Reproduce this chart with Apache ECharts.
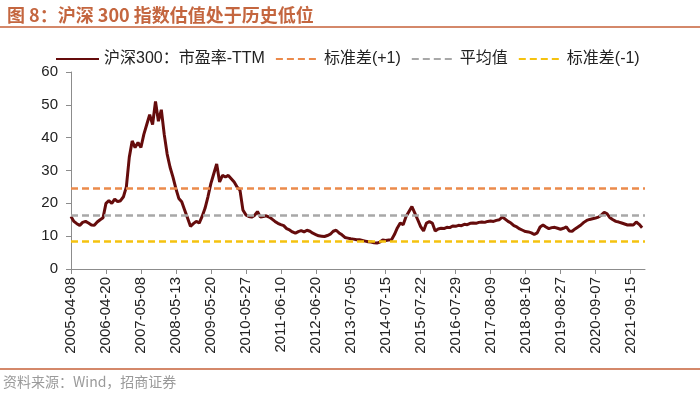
<!DOCTYPE html>
<html>
<head>
<meta charset="utf-8">
<script src="https://cdn.jsdelivr.net/npm/echarts@6/dist/echarts.min.js"></script>
<style>
html,body{margin:0;padding:0;background:#fff;}
#c{width:700px;height:394px;}
</style>
</head>
<body>
<div id="c"></div>
<script>
// Tick labels (every 12th category on the x axis)
const tickLabels = ['2005-04-08','2006-04-20','2007-05-08','2008-05-13','2009-05-20','2010-05-27','2011-06-10','2012-06-20','2013-07-05','2014-07-15','2015-07-22','2016-07-29','2017-08-09','2018-08-16','2019-08-27','2020-09-07','2021-09-15'];
const stepsPerTick = 12;
const tailSteps = 5;

// 沪深300 市盈率-TTM, ~12 points per labelled interval
const pe2005_2007 = [16,14.5,13.8,13.3,14.2,14.5,14,13.4,13.3,14.3,15,15.6,
  20,20.8,20,21.3,20.5,20.8,22,25,34,39,37,38.5];
const pe2007_2009 = [37,41,44,47,44,51,45,48.5,41,35,31,28,
  24.5,21.5,20.5,18,15.5,13,13.8,14.5,14,16,18.5,22];
const pe2009_2011 = [26,29,32,26.5,28.5,28,28.5,27.5,26.5,25,24,18,
  16.5,16,15.8,16.3,17.5,15.8,16,16.2,15.8,15.2,14.5,13.9];
const pe2011_2013 = [13.5,13.2,12.3,11.9,11.3,10.9,11.4,11.7,11.3,11.8,11.5,10.9,
  10.5,10.1,10,9.9,10.2,10.6,11.5,11.8,11,10.4,9.6,9.4];
const pe2013_2015 = [9.2,9.1,8.9,8.9,8.7,8.5,8.3,8.2,8,7.9,8.2,8.8,
  8.7,8.8,8.9,10.5,12.5,14,13.5,16,17.5,19,17,15];
const pe2015_2017 = [12.9,11.6,14,14.4,14,11.6,12.2,12.4,12.3,12.7,12.6,13.1,
  13,13.3,13.2,13.6,13.5,13.9,14,13.9,14.2,14.3,14.2,14.5];
const pe2017_2019 = [14.6,14.5,14.8,15,15.8,15.2,14.5,14,13.2,12.8,12.2,11.8,
  11.4,11.3,11,10.5,11,12.8,13.4,12.8,12.3,12.6,12.7,12.4];
const pe2019_2022 = [12.1,12.4,12.8,11.6,11.5,12.2,12.8,13.4,14.2,14.8,15.1,15.3,
  15.5,15.8,16.4,17.3,16.8,15.6,15,14.5,14.3,14,13.7,13.4,
  13.5,13.4,14.3,13.6,12.6];

// Reference levels
const meanValue = 16.4;
const stdUpValue = 24.5;
const stdDownValue = 8.3;

const seriesNames = ['沪深300：市盈率-TTM','标准差(+1)','平均值','标准差(-1)'];

const peValues = [].concat(pe2005_2007,pe2007_2009,pe2009_2011,pe2011_2013,pe2013_2015,pe2015_2017,pe2017_2019,pe2019_2022);

const categories = [];
tickLabels.forEach(function(lbl, k){
  categories.push(lbl);
  const n = (k === tickLabels.length - 1) ? tailSteps : stepsPerTick - 1;
  for (let j = 0; j < n; j++) categories.push(' ');
});

const chart = echarts.init(document.getElementById('c'));
const CJK = '"Liberation Sans","Noto Sans CJK SC",sans-serif';

function refSeries(name, value, color){
  return {
    name: name, type: 'line', data: [], symbol: 'none',
    lineStyle: {color: color, width: 2.5, type: [7,4]},
    itemStyle: {color: color},
    markLine: {
      silent: true, symbol: ['none','none'], label: {show:false},
      lineStyle: {color: color, width: 2.5, type: [7,4]},
      data: [{yAxis: value}]
    },
    z: 3
  };
}

chart.setOption({
  animation: false,
  textStyle: {fontFamily: CJK},
  title: {
    text: '图 8：沪深 300 指数估值处于历史低位',
    left: 2, top: 1,
    textStyle: {color: '#C4663F', fontSize: 18, fontWeight: 'bold', fontFamily: '"Noto Sans CJK SC",sans-serif'}
  },
  legend: {
    top: 46, left: 50,
    itemWidth: 43, itemHeight: 12, itemGap: 10,
    itemStyle: {opacity: 0},
    textStyle: {fontSize: 16, color: '#222', fontFamily: CJK},
    data: seriesNames
  },
  grid: {left: 71, right: 55, top: 72, bottom: 125},
  xAxis: {
    type: 'category', data: categories, boundaryGap: false,
    axisLine: {lineStyle: {color: '#8c8c8c', width: 1}},
    axisTick: {show: true, interval: stepsPerTick - 1, length: 5, lineStyle: {color: '#8c8c8c'}},
    axisLabel: {interval: stepsPerTick - 1, rotate: 90, fontSize: 15, color: '#222', margin: 8, fontFamily: CJK},
    splitLine: {show: false}
  },
  yAxis: {
    type: 'value', min: 0, max: 60, interval: 10,
    axisLine: {show: true, lineStyle: {color: '#8c8c8c', width: 1}},
    axisTick: {show: true, length: 5, lineStyle: {color: '#8c8c8c'}},
    axisLabel: {fontSize: 15, color: '#222', margin: 13, fontFamily: CJK},
    splitLine: {show: false}
  },
  graphic: [
    {type: 'line', shape: {x1: 0, y1: 27, x2: 700, y2: 27}, style: {stroke: '#D4886A', lineWidth: 2}},
    {type: 'line', shape: {x1: 0, y1: 369, x2: 700, y2: 369}, style: {stroke: '#D4886A', lineWidth: 2}},
    {type: 'text', left: 3, top: 375, style: {text: '资料来源：Wind，招商证券', fill: '#9a9a9a', font: '14px "Noto Sans CJK SC", sans-serif'}}
  ],
  series: [
    {
      name: seriesNames[0], type: 'line', data: peValues, symbol: 'none', showSymbol: false,
      lineStyle: {color: '#650C0C', width: 3},
      itemStyle: {color: '#650C0C'},
      z: 2
    },
    refSeries(seriesNames[1], stdUpValue, '#EB8A4B'),
    refSeries(seriesNames[2], meanValue, '#A8A8A8'),
    refSeries(seriesNames[3], stdDownValue, '#F5C20F')
  ]
});
</script>
</body>
</html>
